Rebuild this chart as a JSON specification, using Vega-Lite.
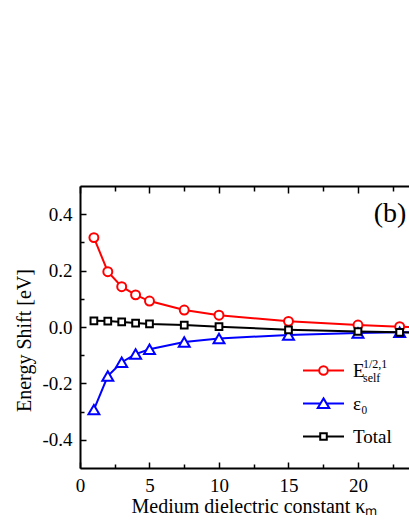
{
  "$schema": "https://vega.github.io/schema/vega-lite/v6.json",
  "width": 329,
  "height": 282,
  "autosize": {"type": "none"},
  "padding": {"left": 80, "top": 186, "right": 0, "bottom": 61},
  "background": "white",
  "config": {
    "view": {"stroke": null},
    "font": "Liberation Serif",
    "text": {"font": "Liberation Serif", "color": "black"},
    "axis": {"grid": false, "domainColor": "black", "tickColor": "black", "labelColor": "black", "titleColor": "black", "labelFont": "Liberation Serif", "titleFont": "Liberation Serif", "titleFontWeight": "normal", "labelFlush": false, "labelOverlap": false}
  },
  "data": {
    "values": [
      {"k": 1, "v": 0.317, "series": "E"},
      {"k": 2, "v": 0.196, "series": "E"},
      {"k": 3, "v": 0.143, "series": "E"},
      {"k": 4, "v": 0.114, "series": "E"},
      {"k": 5, "v": 0.092, "series": "E"},
      {"k": 7.5, "v": 0.060, "series": "E"},
      {"k": 10, "v": 0.042, "series": "E"},
      {"k": 15, "v": 0.020, "series": "E"},
      {"k": 20, "v": 0.007, "series": "E"},
      {"k": 23, "v": 0.001, "series": "E"},
      {"k": 30, "v": -0.006, "series": "E"},
      {"k": 1, "v": -0.293, "series": "ε₀"},
      {"k": 2, "v": -0.174, "series": "ε₀"},
      {"k": 3, "v": -0.125, "series": "ε₀"},
      {"k": 4, "v": -0.096, "series": "ε₀"},
      {"k": 5, "v": -0.079, "series": "ε₀"},
      {"k": 7.5, "v": -0.053, "series": "ε₀"},
      {"k": 10, "v": -0.041, "series": "ε₀"},
      {"k": 15, "v": -0.028, "series": "ε₀"},
      {"k": 20, "v": -0.021, "series": "ε₀"},
      {"k": 23, "v": -0.019, "series": "ε₀"},
      {"k": 30, "v": -0.016, "series": "ε₀"},
      {"k": 1, "v": 0.022, "series": "Total"},
      {"k": 2, "v": 0.021, "series": "Total"},
      {"k": 3, "v": 0.018, "series": "Total"},
      {"k": 4, "v": 0.014, "series": "Total"},
      {"k": 5, "v": 0.011, "series": "Total"},
      {"k": 7.5, "v": 0.007, "series": "Total"},
      {"k": 10, "v": 0.001, "series": "Total"},
      {"k": 15, "v": -0.010, "series": "Total"},
      {"k": 20, "v": -0.016, "series": "Total"},
      {"k": 23, "v": -0.019, "series": "Total"},
      {"k": 30, "v": -0.022, "series": "Total"}
    ]
  },
  "layer": [
    {
      "mark": {"type": "line", "clip": true},
      "encoding": {
        "x": {"field": "k", "type": "quantitative", "scale": {"domain": [0, 23.67], "nice": false, "zero": false},
          "axis": {"orient": "bottom", "values": [0, 5, 10, 15, 20],
            "tickSize": -6, "tickWidth": 1.5, "domainWidth": 2, "labelFontSize": 19, "labelPadding": 14,
            "title": "Medium dielectric constant κₘ", "titleFontSize": 20, "titleX": 174, "titleY": 44, "titleBaseline": "alphabetic", "titleAlign": "center"}},
        "y": {"field": "v", "type": "quantitative", "scale": {"domain": [-0.5, 0.5], "nice": false, "zero": false},
          "axis": {"orient": "left", "values": [-0.4, -0.2, 0, 0.2, 0.4],
            "labelExpr": "(datum.value < 0 ? '-' : '') + format(abs(datum.value), '.1f')",
            "tickSize": -6, "tickWidth": 1.5, "domainWidth": 2, "labelFontSize": 19, "labelPadding": 14,
            "title": "Energy Shift [eV]", "titleFontSize": 20, "titleX": -50, "titleY": 154, "titleBaseline": "alphabetic", "titleAlign": "center", "titleAngle": 270}},
        "stroke": {"field": "series", "type": "nominal",
          "scale": {"domain": ["E", "ε₀", "Total"], "range": ["#ff0000", "#0000ff", "#000000"]},
          "legend": {"orient": "none", "legendX": 222, "legendY": 163, "title": null, "padding": 0,
            "labelFontSize": 19, "labelFont": "Liberation Serif", "labelColor": "black", "labelOffset": 8,
            "symbolSize": 1681, "symbolStrokeWidth": 2, "symbolFillColor": "white", "rowPadding": 1,
            "encode": {"symbols": {"update": {
              "fill": {"value": "white"},
              "shape": {"signal": "datum.value === 'E' ? 'M-1,0H-0.21M0.21,0H1M0.21,0A0.21,0.21,0,1,1,-0.21,0A0.21,0.21,0,1,1,0.21,0Z' : datum.value === 'Total' ? 'M-1,0H-0.16M0.16,0H1M-0.16,-0.16H0.16V0.16H-0.16Z' : 'M-1,0H-0.14M0.14,0H1M0,-0.25L0.28,0.22L-0.28,0.22Z'"}
            }}}}},
        "strokeWidth": {"field": "series", "type": "nominal", "scale": {"domain": ["E", "ε₀", "Total"], "range": [2, 2, 1.5]}, "legend": null}
      }
    },
    {
      "transform": [{"filter": "datum.series === 'E'"}],
      "mark": {"type": "point", "clip": true, "shape": "circle", "size": 80, "stroke": "#ff0000", "fill": "white", "fillOpacity": 1, "opacity": 1, "strokeWidth": 2},
      "encoding": {
        "x": {"field": "k", "type": "quantitative", "scale": {"domain": [0, 23.67], "nice": false, "zero": false},
          "axis": {"orient": "top", "values": [0, 5, 10, 15, 20], "labels": false, "title": null,
            "tickSize": -7, "tickWidth": 1.5, "domainWidth": 2}},
        "y": {"field": "v", "type": "quantitative", "scale": {"domain": [-0.5, 0.5], "nice": false, "zero": false},
          "axis": {"orient": "left", "values": [-0.3, -0.1, 0.1, 0.3], "labels": false, "title": null, "domain": false,
            "tickSize": -4, "tickWidth": 1.5}}
      }
    },
    {
      "transform": [{"filter": "datum.series === 'ε₀'"}],
      "mark": {"type": "point", "clip": true, "shape": "triangle-up", "size": 120, "stroke": "#0000ff", "fill": "white", "fillOpacity": 1, "opacity": 1, "strokeWidth": 2},
      "encoding": {
        "x": {"field": "k", "type": "quantitative", "scale": {"domain": [0, 23.67], "nice": false, "zero": false},
          "axis": {"orient": "bottom", "values": [2.5, 7.5, 12.5, 17.5, 22.5], "labels": false, "title": null, "domain": false,
            "tickSize": -4, "tickWidth": 1.5}},
        "y": {"field": "v", "type": "quantitative", "scale": {"domain": [-0.5, 0.5], "nice": false, "zero": false}, "axis": null}
      }
    },
    {
      "transform": [{"filter": "datum.series === 'Total'"}],
      "mark": {"type": "point", "clip": true, "shape": "square", "size": 45, "stroke": "#000000", "fill": "white", "fillOpacity": 1, "opacity": 1, "strokeWidth": 2},
      "encoding": {
        "x": {"field": "k", "type": "quantitative", "scale": {"domain": [0, 23.67], "nice": false, "zero": false},
          "axis": {"orient": "top", "values": [2.5, 7.5, 12.5, 17.5, 22.5], "labels": false, "title": null, "domain": false,
            "tickSize": -5, "tickWidth": 1.5}},
        "y": {"field": "v", "type": "quantitative", "scale": {"domain": [-0.5, 0.5], "nice": false, "zero": false}, "axis": null}
      }
    },
    {
      "data": {"values": [{"label": "(b)"}]},
      "mark": {"type": "text", "fontSize": 28, "align": "center", "baseline": "alphabetic", "font": "Liberation Serif"},
      "encoding": {
        "x": {"datum": 22.3, "type": "quantitative", "scale": {"domain": [0, 23.67], "nice": false, "zero": false}, "axis": null},
        "y": {"datum": 0.373, "type": "quantitative", "scale": {"domain": [-0.5, 0.5], "nice": false, "zero": false}, "axis": null},
        "text": {"field": "label"}
      }
    },
    {
      "data": {"values": [{"label": "1/2,1"}]},
      "mark": {"type": "text", "fontSize": 12, "align": "left", "baseline": "alphabetic", "font": "Liberation Serif"},
      "encoding": {
        "x": {"datum": 20.36, "type": "quantitative", "scale": {"domain": [0, 23.67], "nice": false, "zero": false}, "axis": null},
        "y": {"datum": -0.146, "type": "quantitative", "scale": {"domain": [-0.5, 0.5], "nice": false, "zero": false}, "axis": null},
        "text": {"field": "label"}
      }
    },
    {
      "data": {"values": [{"label": "self"}]},
      "mark": {"type": "text", "fontSize": 12, "align": "left", "baseline": "alphabetic", "font": "Liberation Serif"},
      "encoding": {
        "x": {"datum": 20.36, "type": "quantitative", "scale": {"domain": [0, 23.67], "nice": false, "zero": false}, "axis": null},
        "y": {"datum": -0.195, "type": "quantitative", "scale": {"domain": [-0.5, 0.5], "nice": false, "zero": false}, "axis": null},
        "text": {"field": "label"}
      }
    }
  ],
  "resolve": {"axis": {"x": "independent", "y": "independent"}}
}
